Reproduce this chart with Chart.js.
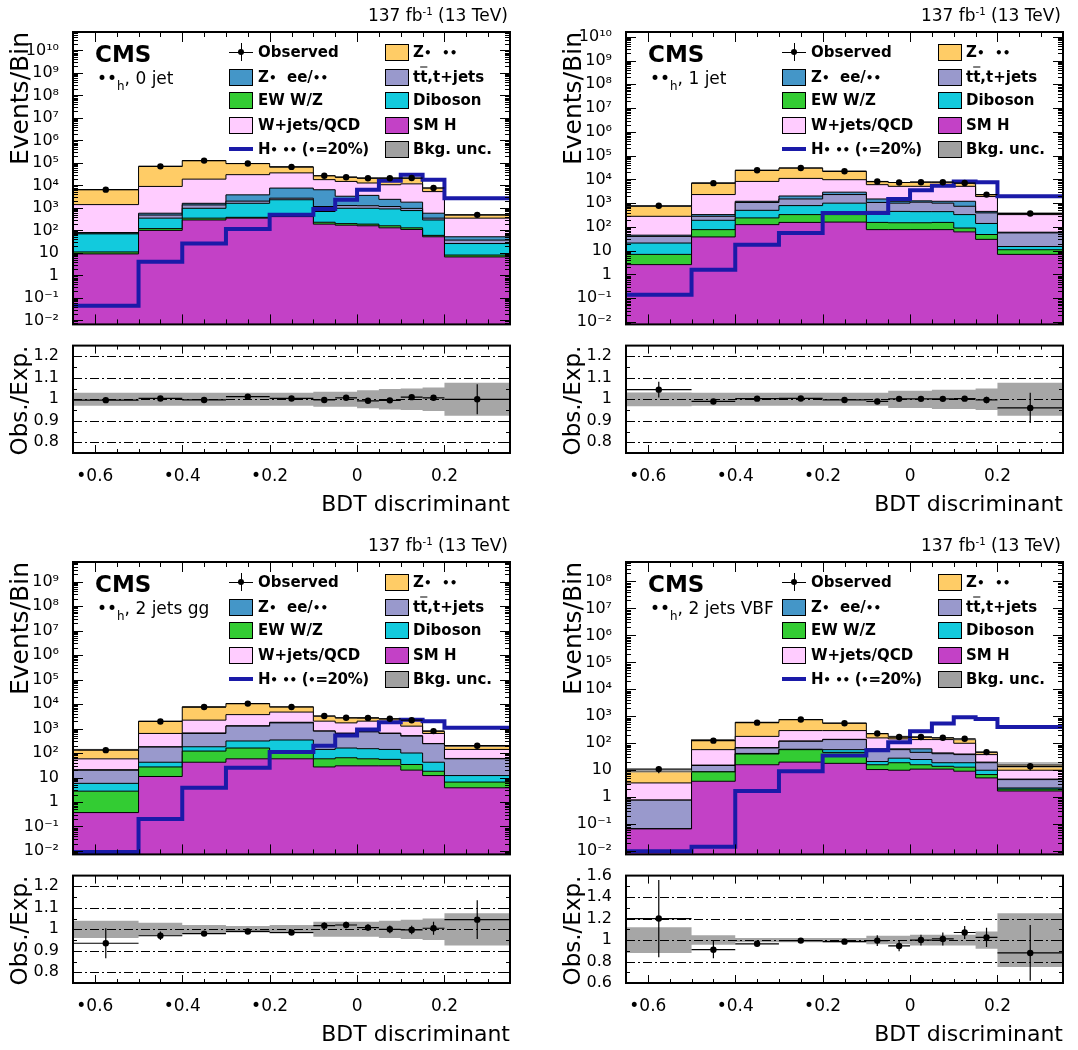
<!DOCTYPE html>
<html>
<head>
<meta charset="utf-8">
<script src="https://cdn.jsdelivr.net/npm/chart.js@4.4.1/dist/chart.umd.min.js"></script>
<style>
  body { margin: 0; background: #fff; }
  #wrap { position: relative; width: 1078px; height: 1050px; overflow: hidden; font-family: "DejaVu Sans", sans-serif; color: #000; }
  #wrap canvas { position: absolute; }
  .txt { position: absolute; white-space: nowrap; line-height: 1; transform: translateY(-50%); }
  .leg { font-weight: bold; font-size: 15px; }
  .bl { font-size: 0.8em; }
  .box { position: absolute; box-sizing: border-box; border: 1px solid #000; width: 24px; height: 17px; }
  .ln { position: absolute; background: #000; }
  sup { font-size: 0.6em; vertical-align: baseline; position: relative; top: -0.6em; }
</style>
</head>
<body>
<div id="wrap"></div>
<script>
// binning of the BDT discriminant
var binEdges = [-0.65, -0.5, -0.4, -0.3, -0.2, -0.1, -0.05, 0, 0.05, 0.1, 0.15, 0.2, 0.35];
var categories = ['0 jet', '1 jet', '2 jets gg', '2 jets VBF'];
var xTickValues = [-0.6, -0.4, -0.2, 0, 0.2];

// expected yields per process, one row per category (0 jet, 1 jet, 2 jets gg, 2 jets VBF)
var smH = [
  [9, 100, 290, 350, 410, 190, 170, 160, 130, 110, 52, 6.6],
  [2.6, 38, 125, 155, 160, 77, 77, 77, 77, 62, 30, 7],
  [0.37, 11, 42, 58, 58, 27, 30, 30, 30, 20, 12, 3.8],
  [0.067, 3.9, 16, 20, 18, 10.6, 10, 11, 11, 9.2, 5.2, 1.7]
];
var ewWZ = [
  [2, 20, 60, 30, 40, 40, 30, 30, 30, 20, 8, 1.4],
  [4.4, 39, 115, 175, 170, 78, 73, 73, 78, 28, 18, 4],
  [2.4, 16, 78, 102, 38, 31, 34, 28, 25, 14, 6, 2.7],
  [0, 4.8, 24, 38, 28, 5.4, 9, 5, 3, 3.8, 1.7, 0.3]
];
var diboson = [
  [59, 230, 610, 1220, 1850, 460, 760, 770, 740, 630, 230, 18],
  [14, 113, 260, 460, 670, 295, 300, 290, 285, 240, 92, 4],
  [3, 15, 60, 150, 244, 82, 96, 92, 85, 66, 24, 5.5],
  [0, 0.1, 2, 2, 12, 5, 9, 9, 5, 6, 3.1, 0.2]
];
var ttbar = [
  [5, 130, 390, 400, 400, 460, 310, 290, 250, 190, 60, 11],
  [19, 90, 570, 710, 1300, 620, 550, 660, 560, 410, 250, 41],
  [14, 133, 450, 940, 1360, 640, 470, 580, 490, 390, 198, 46],
  [0.71, 6.2, 25, 58, 79, 37, 30, 21, 22, 19, 9, 2.3]
];
var zll = [
  [5, 100, 250, 1800, 4900, 5250, 2030, 2350, 1250, 850, 230, 15],
  [5, 50, 130, 500, 600, 430, 200, 150, 200, 460, 60, 4],
  [1, 5, 30, 50, 100, 20, 20, 20, 20, 20, 5, 2],
  [0.01, 0.5, 2, 4, 3, 4, 4, 16, 3, 2, 1, 0.2]
];
var wjets = [
  [1320, 8420, 17400, 26200, 28400, 11600, 11700, 9200, 8300, 9900, 4720, 298],
  [235, 1970, 7000, 9000, 6800, 4500, 3900, 3850, 4800, 3900, 1450, 270],
  [37, 450, 1540, 2400, 2900, 1200, 1050, 1250, 1050, 740, 385, 80],
  [2.6, 42.5, 111, 173, 155, 96, 83, 75, 93, 60, 18, 5.3]
];
var ztt = [
  [5100, 61000, 108000, 63000, 30000, 9000, 8000, 8200, 10300, 9300, 2300, 140],
  [460, 4700, 15800, 19000, 12300, 2200, 2300, 2500, 1600, 1900, 400, 50],
  [82, 1370, 5500, 6800, 3000, 1200, 1000, 700, 800, 950, 150, 50],
  [5.8, 79, 420, 465, 265, 72, 35, 33, 21, 37, 8, 6]
];
var observed = [
  [6470, 70300, 126600, 94100, 66300, 26900, 23200, 20900, 20900, 21200, 7650, 490],
  [773, 6930, 24070, 30120, 21930, 8120, 7415, 7615, 7615, 7020, 2293, 365],
  [131, 1940, 7550, 10400, 7580, 3250, 2750, 2720, 2500, 2190, 784, 199],
  [11, 125, 580, 756, 552, 229, 170, 170, 160, 147, 47, 14]
];
var signal = [
  [0.045, 4, 26, 115, 490, 900, 2300, 6400, 16000, 30000, 18000, 2700],
  [0.14, 1.6, 18, 56, 390, 390, 1500, 3500, 5400, 8200, 7500, 1950],
  [0.009, 0.2, 3.8, 25, 110, 200, 520, 910, 1800, 2300, 2000, 1070],
  [0.01, 0.0145, 1.7, 9.2, 35, 55, 110, 280, 540, 920, 800, 400]
];
var ratio = [
  [0.996, 1.004, 0.997, 1.012, 1.004, 0.997, 1.007, 0.993, 0.995, 1.01, 1.007, 1.0],
  [1.045, 0.99, 1.003, 1.004, 0.997, 0.99, 1.002, 1.002, 1.002, 1.003, 0.997, 0.96],
  [0.935, 0.97, 0.98, 0.99, 0.985, 1.017, 1.02, 1.008, 1.0, 0.997, 1.005, 1.045],
  [1.2, 0.91, 0.965, 0.995, 0.985, 0.995, 0.945, 1.0, 1.01, 1.07, 1.025, 0.88]
];
var ratioErr = [
  [0.004, 0.003, 0.003, 0.003, 0.004, 0.006, 0.006, 0.006, 0.007, 0.007, 0.012, 0.07],
  [0.037, 0.005, 0.003, 0.003, 0.003, 0.005, 0.005, 0.005, 0.006, 0.006, 0.015, 0.07],
  [0.07, 0.02, 0.01, 0.008, 0.008, 0.015, 0.015, 0.015, 0.018, 0.02, 0.03, 0.09],
  [0.36, 0.08, 0.02, 0.02, 0.02, 0.05, 0.05, 0.05, 0.06, 0.06, 0.09, 0.26]
];
var bkgUnc = [
  [0.03, 0.03, 0.03, 0.03, 0.03, 0.035, 0.035, 0.042, 0.048, 0.05, 0.055, 0.077],
  [0.032, 0.03, 0.03, 0.03, 0.03, 0.03, 0.04, 0.04, 0.045, 0.045, 0.05, 0.077],
  [0.04, 0.03, 0.02, 0.015, 0.02, 0.035, 0.035, 0.035, 0.04, 0.045, 0.05, 0.075],
  [0.12, 0.045, 0.02, 0.02, 0.02, 0.04, 0.04, 0.05, 0.05, 0.05, 0.08, 0.25]
];

// axis ranges (log10 of the event axis) and ratio axes
var yLogMin = [-2.18, -2.1, -2.14, -2.12];
var yLogMax = [10.82, 10.2, 9.8, 8.72];
var ratioMin = [0.75, 0.75, 0.75, 0.6];
var ratioMax = [1.25, 1.25, 1.25, 1.6];
var ratioTicks = [[0.8, 0.9, 1, 1.1, 1.2], [0.8, 0.9, 1, 1.1, 1.2], [0.8, 0.9, 1, 1.1, 1.2], [0.6, 0.8, 1, 1.2, 1.4, 1.6]];
var ratioGrid = [[0.8, 0.9, 1, 1.1, 1.2], [0.8, 0.9, 1, 1.1, 1.2], [0.8, 0.9, 1, 1.1, 1.2], [0.8, 1, 1.2, 1.4]];

// stack order bottom -> top
var stackColors = ['#c341c6', '#33cc33', '#12cadd', '#9999cc', '#4496c8', '#ffccff', '#ffcc66'];
var sigColor = '#1a1aa8';

Chart.defaults.font.family = '"DejaVu Sans", sans-serif';
Chart.defaults.color = '#000';

var wrap = document.getElementById('wrap');

function sup(n) {
  var map = {'-': '\u207b', '0': '\u2070', '1': '\u00b9', '2': '\u00b2', '3': '\u00b3', '4': '\u2074',
             '5': '\u2075', '6': '\u2076', '7': '\u2077', '8': '\u2078', '9': '\u2079'};
  return String(n).split('').map(function(c) { return map[c]; }).join('');
}
function powLabel(v) {
  var e = Math.round(Math.log10(v));
  if (e === 0) return '1';
  if (e === 1) return '10';
  return '10' + sup(e);
}
// histogram as stepped line: value held from left edge to right edge
function stepPoints(vals) {
  var pts = [];
  for (var i = 0; i < vals.length; i++) pts.push({x: binEdges[i], y: vals[i]});
  pts.push({x: binEdges[vals.length], y: vals[vals.length - 1]});
  return pts;
}
function centerPoints(vals) {
  return vals.map(function(v, i) { return {x: (binEdges[i] + binEdges[i + 1]) / 2, y: v}; });
}

// ROOT style frame, inward ticks, dash-dot grid and error bars
var rootFrame = {
  id: 'rootFrame',
  afterDatasetDraw: function(chart, args, opts) {
    if (opts.gridAfter !== args.index) return;
    var a = chart.chartArea, y = chart.scales.y, ctx = chart.ctx;
    ctx.save();
    ctx.strokeStyle = '#000';
    ctx.lineWidth = 1;
    ctx.setLineDash([9, 3, 2, 3]);
    opts.gridLines.forEach(function(v) {
      var py = Math.round(y.getPixelForValue(v)) + 0.5;
      ctx.beginPath();
      ctx.moveTo(a.left, py);
      ctx.lineTo(a.right, py);
      ctx.stroke();
    });
    ctx.restore();
  },
  afterDatasetsDraw: function(chart, args, opts) {
    var e = opts.errBars;
    if (!e) return;
    var x = chart.scales.x, y = chart.scales.y, ctx = chart.ctx, a = chart.chartArea;
    ctx.save();
    ctx.beginPath();
    ctx.rect(a.left, a.top, a.right - a.left, a.bottom - a.top);
    ctx.clip();
    ctx.strokeStyle = '#000';
    ctx.lineWidth = 1.2;
    e.vals.forEach(function(v, i) {
      var py = y.getPixelForValue(v);
      var px = x.getPixelForValue((binEdges[i] + binEdges[i + 1]) / 2);
      ctx.beginPath();
      ctx.moveTo(x.getPixelForValue(binEdges[i]), py);
      ctx.lineTo(x.getPixelForValue(binEdges[i + 1]), py);
      ctx.moveTo(px, y.getPixelForValue(v + e.errs[i]));
      ctx.lineTo(px, y.getPixelForValue(Math.max(v - e.errs[i], y.min)));
      ctx.stroke();
    });
    ctx.restore();
  },
  afterDraw: function(chart, args, opts) {
    var a = chart.chartArea, x = chart.scales.x, y = chart.scales.y, ctx = chart.ctx;
    var big = opts.tickLen, small = opts.tickLen / 2;
    ctx.save();
    ctx.strokeStyle = '#000';
    ctx.lineWidth = 1;
    ctx.beginPath();
    for (var i = -12; i <= 7; i++) {
      var px = Math.round(x.getPixelForValue(i * 0.05)) + 0.5;
      var len = (i % 4 === 0) ? big : small;
      ctx.moveTo(px, a.bottom); ctx.lineTo(px, a.bottom - len);
      ctx.moveTo(px, a.top); ctx.lineTo(px, a.top + len);
    }
    var yt = [];
    if (y.type === 'logarithmic') {
      for (var d = Math.floor(Math.log10(y.min)); d <= Math.ceil(Math.log10(y.max)); d++) {
        for (var m = 1; m <= 9; m++) yt.push([m * Math.pow(10, d), m === 1 ? big : small]);
      }
    } else {
      for (var v = y.min; v <= y.max + 1e-9; v += opts.minorStep) {
        var isMajor = opts.majors.some(function(t) { return Math.abs(t - v) < 1e-6; });
        yt.push([v, isMajor ? big : small]);
      }
    }
    yt.forEach(function(t) {
      if (t[0] < y.min || t[0] > y.max) return;
      var py = Math.round(y.getPixelForValue(t[0])) + 0.5;
      ctx.moveTo(a.left, py); ctx.lineTo(a.left + t[1], py);
      ctx.moveTo(a.right, py); ctx.lineTo(a.right - t[1], py);
    });
    ctx.stroke();
    ctx.lineWidth = 2;
    ctx.strokeRect(a.left, a.top, a.right - a.left, a.bottom - a.top);
    ctx.restore();
  }
};

function addCanvas(x, y, w, h) {
  var c = document.createElement('canvas');
  c.width = w; c.height = h;
  c.style.left = x + 'px'; c.style.top = y + 'px';
  c.style.width = w + 'px'; c.style.height = h + 'px';
  wrap.appendChild(c);
  return c;
}
function addText(html, x, y, css) {
  var d = document.createElement('div');
  d.className = 'txt';
  d.innerHTML = html;
  d.style.left = x + 'px';
  d.style.top = y + 'px';
  if (css) d.style.cssText += css;
  wrap.appendChild(d);
  return d;
}

function makePanel(k, ox, oy) {
  // ---------- upper plot: stacked backgrounds ----------
  // note: Chart.js paints lower "order" on top
  var stack = [smH[k], ewWZ[k], diboson[k], ttbar[k], zll[k], wjets[k], ztt[k]];
  var run = stack[0].map(function() { return 0; });
  var ds = [];
  stack.forEach(function(vals, j) {
    run = run.map(function(r, i) { return r + vals[i]; });
    ds.push({
      data: stepPoints(run), stepped: true, fill: j === 0 ? 'start' : '-1', order: 10,
      backgroundColor: stackColors[j], borderColor: '#000', borderWidth: 1, pointRadius: 0
    });
  });
  var total = run;
  ds.push({
    data: stepPoints(total.map(function(t, i) { return t * (1 - bkgUnc[k][i]); })),
    stepped: true, fill: false, order: 5, borderColor: 'rgba(0,0,0,0)', borderWidth: 0, pointRadius: 0
  });
  ds.push({
    data: stepPoints(total.map(function(t, i) { return t * (1 + bkgUnc[k][i]); })),
    stepped: true, fill: '-1', order: 5, backgroundColor: 'rgba(140,140,140,0.6)',
    borderColor: 'rgba(0,0,0,0)', borderWidth: 0, pointRadius: 0
  });
  ds.push({
    data: stepPoints(signal[k]), stepped: true, fill: false, order: 2,
    borderColor: sigColor, borderWidth: 4, pointRadius: 0
  });
  ds.push({
    data: centerPoints(observed[k]), showLine: false, order: 0, pointRadius: 3.2,
    pointBackgroundColor: '#000', pointBorderColor: '#000', pointBorderWidth: 0
  });
  var obsErr = observed[k].map(function(o, i) { return o * ratioErr[k][i] / ratio[k][i]; });

  new Chart(addCanvas(ox, oy, 530, 340), {
    type: 'line',
    data: {datasets: ds},
    options: {
      responsive: false, animation: false, devicePixelRatio: 1,
      layout: {padding: {top: 32, right: 20, bottom: 15, left: 0}},
      plugins: {
        legend: {display: false}, tooltip: {enabled: false},
        rootFrame: {tickLen: 10, errBars: {vals: observed[k], errs: obsErr}}
      },
      scales: {
        x: {type: 'linear', min: -0.65, max: 0.35, display: false},
        y: {
          type: 'logarithmic', min: Math.pow(10, yLogMin[k]), max: Math.pow(10, yLogMax[k]),
          afterFit: function(s) { s.width = 73; },
          afterBuildTicks: function(s) {
            var t = [];
            for (var e = Math.ceil(yLogMin[k]); e <= Math.floor(yLogMax[k]); e++) t.push({value: Math.pow(10, e)});
            s.ticks = t;
          },
          ticks: {callback: function(v) { return powLabel(v); }, font: {size: 16}, padding: 6, autoSkip: false},
          grid: {display: false}, border: {display: false},
          title: {display: true, text: 'Events/Bin', align: 'end', font: {size: 25}, padding: {top: 6, bottom: 0}}
        }
      }
    },
    plugins: [rootFrame]
  });

  // ---------- lower plot: observed / expected ----------
  var rds = [
    {data: stepPoints(bkgUnc[k].map(function(u) { return 1 - u; })), stepped: true, fill: false, order: 5,
     borderColor: 'rgba(0,0,0,0)', borderWidth: 0, pointRadius: 0},
    {data: stepPoints(bkgUnc[k].map(function(u) { return 1 + u; })), stepped: true, fill: '-1', order: 5,
     backgroundColor: '#a6a6a6', borderColor: 'rgba(0,0,0,0)', borderWidth: 0, pointRadius: 0},
    {data: centerPoints(ratio[k]), showLine: false, order: 0, pointRadius: 3.2,
     pointBackgroundColor: '#000', pointBorderColor: '#000', pointBorderWidth: 0}
  ];
  new Chart(addCanvas(ox, oy + 330, 530, 200), {
    type: 'line',
    data: {datasets: rds},
    options: {
      responsive: false, animation: false, devicePixelRatio: 1,
      layout: {padding: {top: 12, right: 20, bottom: 0, left: 0}},
      plugins: {
        legend: {display: false}, tooltip: {enabled: false},
        rootFrame: {
          tickLen: 8, gridAfter: 1, gridLines: ratioGrid[k],
          majors: ratioTicks[k], minorStep: k === 3 ? 0.1 : 0.05,
          errBars: {vals: ratio[k], errs: ratioErr[k]}
        }
      },
      scales: {
        x: {
          type: 'linear', min: -0.65, max: 0.35,
          afterFit: function(s) { s.height = 77; },
          afterBuildTicks: function(s) { s.ticks = xTickValues.map(function(v) { return {value: v}; }); },
          ticks: {
            callback: function(v) {
              if (Math.abs(v) < 1e-9) return '0';
              return (v < 0 ? '\u2022' : '') + Math.abs(v).toFixed(1);
            },
            font: {size: 17}, padding: 5, maxRotation: 0, autoSkip: false
          },
          grid: {display: false}, border: {display: false},
          title: {display: true, text: 'BDT discriminant', align: 'end', font: {size: 22}, padding: {top: 0, bottom: 12}}
        },
        y: {
          type: 'linear', min: ratioMin[k], max: ratioMax[k],
          afterFit: function(s) { s.width = 73; },
          afterBuildTicks: function(s) { s.ticks = ratioTicks[k].map(function(v) { return {value: v}; }); },
          ticks: {callback: function(v) { return String(Math.round(v * 10) / 10); }, font: {size: 16}, padding: 6, autoSkip: false},
          grid: {display: false}, border: {display: false},
          title: {display: true, text: 'Obs./Exp.', align: 'end', font: {size: 23}, padding: {top: 7, bottom: 0}}
        }
      }
    },
    plugins: [rootFrame]
  });

  // ---------- text overlays ----------
  var b = '<span class="bl">\u2022</span>';
  addText('137 fb<sup>-1</sup> (13 TeV)', 0, oy + 15, 'left:auto;right:' + (1078 - (ox + 508)) + 'px;font-size:17px;');
  addText('CMS', ox + 95, oy + 54, 'font-weight:bold;font-size:23px;');
  addText('\u2022\u2022<span style="font-size:0.7em;position:relative;top:0.5em;">h</span>, ' + categories[k],
          ox + 97, oy + 78, 'font-size:17px;');

  var rows = [52, 77, 100, 125, 149];
  var leftCol = [
    ['obs', 'Observed'],
    ['#4496c8', 'Z' + b + '&nbsp; ee/' + b + b],
    ['#33cc33', 'EW W/Z'],
    ['#ffccff', 'W+jets/QCD'],
    ['sig', '<span style="letter-spacing:-0.4px">H' + b + '&nbsp;' + b + b + ' (' + b + '=20%)</span>']
  ];
  var rightCol = [
    ['#ffcc66', 'Z' + b + '&nbsp; ' + b + b],
    ['#9999cc', 't<span style="text-decoration:overline">t</span>,t+jets'],
    ['#12cadd', 'Diboson'],
    ['#c341c6', 'SM H'],
    ['#a0a0a0', 'Bkg. unc.']
  ];
  function legendCol(entries, mx, tx) {
    entries.forEach(function(en, r) {
      var cy = oy + rows[r];
      if (en[0] === 'obs') {
        var h = document.createElement('div'); h.className = 'ln';
        h.style.cssText += 'left:' + (ox + mx) + 'px;top:' + (cy - 0.5) + 'px;width:24px;height:1.2px;';
        wrap.appendChild(h);
        var vl = document.createElement('div'); vl.className = 'ln';
        vl.style.cssText += 'left:' + (ox + mx + 11.5) + 'px;top:' + (cy - 9) + 'px;width:1.2px;height:18px;';
        wrap.appendChild(vl);
        var dot = document.createElement('div'); dot.className = 'ln';
        dot.style.cssText += 'left:' + (ox + mx + 9) + 'px;top:' + (cy - 3) + 'px;width:6.4px;height:6.4px;border-radius:50%;';
        wrap.appendChild(dot);
      } else if (en[0] === 'sig') {
        var s = document.createElement('div'); s.className = 'ln';
        s.style.cssText += 'left:' + (ox + mx) + 'px;top:' + (cy - 2) + 'px;width:24px;height:4px;background:' + sigColor + ';';
        wrap.appendChild(s);
      } else {
        var bx = document.createElement('div'); bx.className = 'box';
        bx.style.left = (ox + mx) + 'px'; bx.style.top = (cy - 8.5) + 'px'; bx.style.background = en[0];
        wrap.appendChild(bx);
      }
      addText(en[1], ox + tx, cy, '').className += ' leg';
    });
  }
  legendCol(leftCol, 229, 258);
  legendCol(rightCol, 385, 413);
}

makePanel(0, 0, 0);
makePanel(1, 553, 0);
makePanel(2, 0, 530);
makePanel(3, 553, 530);
</script>
</body>
</html>
